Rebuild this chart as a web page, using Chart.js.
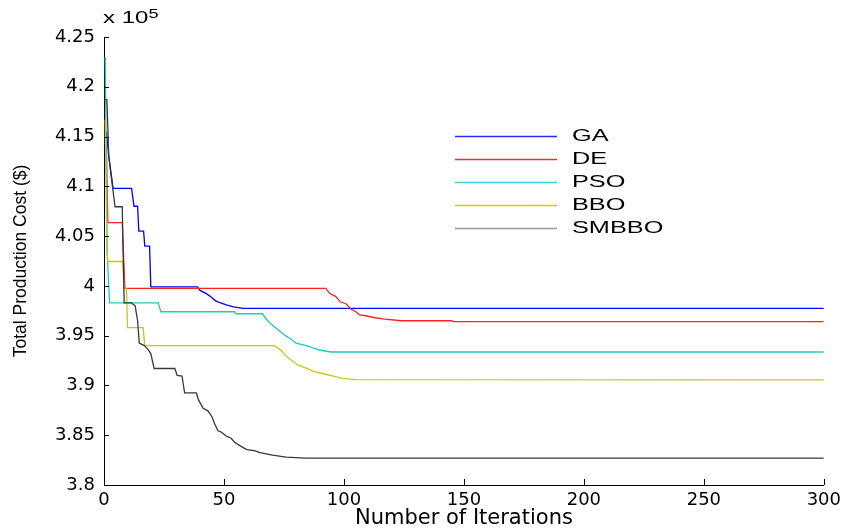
<!DOCTYPE html>
<html>
<head>
<meta charset="utf-8">
<script src="https://cdn.jsdelivr.net/npm/chart.js@4.4.1/dist/chart.umd.min.js"></script>
<style>
  html, body { margin: 0; padding: 0; background: #fff; }
  #wrap { position: relative; width: 846px; height: 529px; }
  #c { position: absolute; left: 0; top: 0; }
  .lg-text { position: absolute; font-family: "Liberation Sans", Arial, sans-serif; font-size: 16px; line-height: 16px;
             color: #000; transform: scaleX(1.58); transform-origin: left center; white-space: nowrap; }
  #expo { position: absolute; left: 103px; top: 10px; font-family: "Liberation Sans", Arial, sans-serif; font-size: 16px;
          line-height: 16px; transform: scaleX(1.5); transform-origin: left top; white-space: nowrap; }
  #expo sup { font-size: 12px; position: relative; top: -4px; vertical-align: top; }
</style>
</head>
<body>
<div id="wrap">
  <canvas id="c" width="846" height="529"></canvas>
  <div id="legend"></div>
  <div id="expo">x 10<sup>5</sup></div>
</div>
<script>
// ---- Data (costs in units of 10^5 $) ----
const seriesNames = ["GA", "DE", "PSO", "BBO", "SMBBO"];
const seriesColors = ["#0000ff", "#ff2020", "#1fc8c8", "#c8c814", "#383838"];
const legendColors = ["#2a2aff", "#f03030", "#30d4d4", "#cccc20", "#9a9a9a"];

const xTicks = [0, 50, 100, 150, 200, 250, 300];
const yTicks = [3.8, 3.85, 3.9, 3.95, 4, 4.05, 4.1, 4.15, 4.2, 4.25];

const gaIter = [1, 2, 3.8, 11.5, 12.5, 14, 14.5, 16.5, 17, 19, 19.5, 39, 40, 42.5, 44.5, 46.5, 48, 51, 54, 58, 300];
const gaCost = [4.155, 4.13, 4.098, 4.098, 4.08, 4.08, 4.055, 4.055, 4.04, 4.04, 3.999, 3.999, 3.9955, 3.9925, 3.989, 3.985, 3.9835, 3.981, 3.979, 3.9775, 3.9775];

const deIter = [1, 1.6, 7.6, 8.7, 92.5, 94, 96.5, 98.5, 101, 103, 105, 106.5, 109, 113, 117, 124, 145, 145.5, 300];
const deCost = [4.14, 4.0635, 4.0635, 3.9975, 3.9975, 3.9925, 3.9895, 3.984, 3.9818, 3.9765, 3.974, 3.9708, 3.970, 3.968, 3.9667, 3.965, 3.965, 3.9642, 3.9642];

const psoIter = [0.5, 1.4, 2.3, 22.6, 23.7, 54.4, 55, 66, 67.5, 69, 71.5, 73.5, 75.6, 78.5, 80, 83.5, 86.8, 89.7, 94.6, 300];
const psoCost = [4.23, 4.03, 3.983, 3.983, 3.974, 3.974, 3.972, 3.972, 3.967, 3.963, 3.958, 3.954, 3.950, 3.9457, 3.9425, 3.9405, 3.938, 3.9356, 3.9336, 3.9336];

const bboIter = [0.5, 1.2, 1.6, 7.8, 8.4, 9.4, 9.8, 16.3, 17, 71, 73.8, 75.6, 78, 80.7, 84.2, 87.7, 91.8, 96, 99.4, 105, 300];
const bboCost = [4.167, 4.035, 4.0245, 4.0245, 3.997, 3.997, 3.958, 3.958, 3.94, 3.94, 3.9353, 3.930, 3.9256, 3.9206, 3.9173, 3.914, 3.9115, 3.909, 3.9072, 3.9058, 3.9055];

const smbboIter = [0.5, 1.2, 2, 3, 4.6, 7.6, 8.4, 11.5, 12, 13, 14, 14.7, 16.8, 18.4, 19.5, 20.9, 29.5, 30.5, 32.5, 33.6, 38.5, 39.3, 41.3, 43.3, 45, 46, 47.5, 49, 51, 53, 54.4, 57.3, 59.5, 62.7, 65, 70.3, 74.4, 76, 84, 300];
const smbboCost = [4.187, 4.187, 4.13, 4.11, 4.0795, 4.0795, 3.983, 3.983, 3.9817, 3.980, 3.965, 3.9425, 3.940, 3.936, 3.932, 3.917, 3.917, 3.910, 3.9095, 3.8925, 3.8925, 3.886, 3.877, 3.8745, 3.8686, 3.862, 3.8545, 3.853, 3.849, 3.847, 3.843, 3.8385, 3.8355, 3.8345, 3.8326, 3.830, 3.8285, 3.828, 3.827, 3.827];

const allIter = [gaIter, deIter, psoIter, bboIter, smbboIter];
const allCost = [gaCost, deCost, psoCost, bboCost, smbboCost];

// ---- Chart ----
const PLOT = { left: 104, top: 37, right: 20, bottom: 44 };
const legendYs = [136, 159, 182, 205, 228];

const datasets = seriesNames.map((name, i) => ({
  label: name,
  data: allIter[i].map((x, k) => ({ x: x, y: allCost[i][k] })),
  borderColor: seriesColors[i],
  backgroundColor: seriesColors[i],
  borderWidth: 1.3,
  pointRadius: 0,
  tension: 0,
  fill: false,
  order: 5 - i
}));

const fmt = v => String(Number(v.toFixed(2)));

const inwardTicks = {
  id: "inwardTicks",
  afterDraw(chart) {
    const ctx = chart.ctx;
    const xs = chart.scales.x, ys = chart.scales.y;
    const a = chart.chartArea;
    ctx.save();
    ctx.strokeStyle = "#000";
    ctx.lineWidth = 1;
    ctx.beginPath();
    xTicks.forEach(v => {
      const px = Math.round(xs.getPixelForValue(v)) + 0.5;
      ctx.moveTo(px, a.bottom); ctx.lineTo(px, a.bottom - 6);
    });
    yTicks.forEach(v => {
      const py = Math.round(ys.getPixelForValue(v)) + 0.5;
      ctx.moveTo(a.left, py); ctx.lineTo(a.left + 5, py);
    });
    ctx.stroke();
    // legend sample lines
    ctx.lineWidth = 1.3;
    legendYs.forEach((y, i) => {
      ctx.strokeStyle = legendColors[i];
      ctx.beginPath();
      ctx.moveTo(455, y + 0.5);
      ctx.lineTo(557, y + 0.5);
      ctx.stroke();
    });
    ctx.restore();
  }
};

new Chart(document.getElementById("c"), {
  type: "line",
  data: { datasets },
  plugins: [inwardTicks],
  options: {
    responsive: false,
    animation: false,
    events: [],
    layout: { padding: { left: 0, top: PLOT.top, right: PLOT.right, bottom: 0 } },
    plugins: { legend: { display: false }, tooltip: { enabled: false } },
    scales: {
      x: {
        type: "linear",
        min: 0, max: 300,
        afterFit(s) { s.height = PLOT.bottom; },
        afterBuildTicks(s) { s.ticks = xTicks.map(v => ({ value: v })); },
        ticks: {
          callback: v => fmt(v),
          color: "#000",
          padding: 5,
          maxRotation: 0,
          autoSkip: false,
          font: { family: "DejaVu Sans", size: 18 }
        },
        grid: { display: true, drawOnChartArea: false, drawTicks: false },
        border: { display: true, color: "#000", width: 1 },
        title: {
          display: true,
          text: "Number of Iterations",
          color: "#000",
          font: { family: "DejaVu Sans", size: 21 },
          padding: { top: 0, bottom: -2 }
        }
      },
      y: {
        type: "linear",
        min: 3.8, max: 4.25,
        afterFit(s) { s.width = PLOT.left; },
        afterBuildTicks(s) { s.ticks = yTicks.map(v => ({ value: v })); },
        ticks: {
          callback: v => fmt(v),
          color: "#000",
          padding: 9,
          autoSkip: false,
          font: { family: "DejaVu Sans", size: 18 }
        },
        grid: { display: true, drawOnChartArea: false, drawTicks: false },
        border: { display: true, color: "#000", width: 1 },
        title: {
          display: true,
          text: "Total Production Cost ($)",
          color: "#000",
          font: { family: "Liberation Sans", size: 17.5 },
          padding: { top: 11, bottom: 0 }
        }
      }
    }
  }
});

// ---- Legend labels (inside the axes, like the reference) ----
const lg = document.getElementById("legend");
seriesNames.forEach((name, i) => {
  const t = document.createElement("div");
  t.className = "lg-text";
  t.style.left = "572px";
  t.style.top = (legendYs[i] - 8) + "px";
  t.textContent = name;
  lg.appendChild(t);
});
</script>
</body>
</html>
